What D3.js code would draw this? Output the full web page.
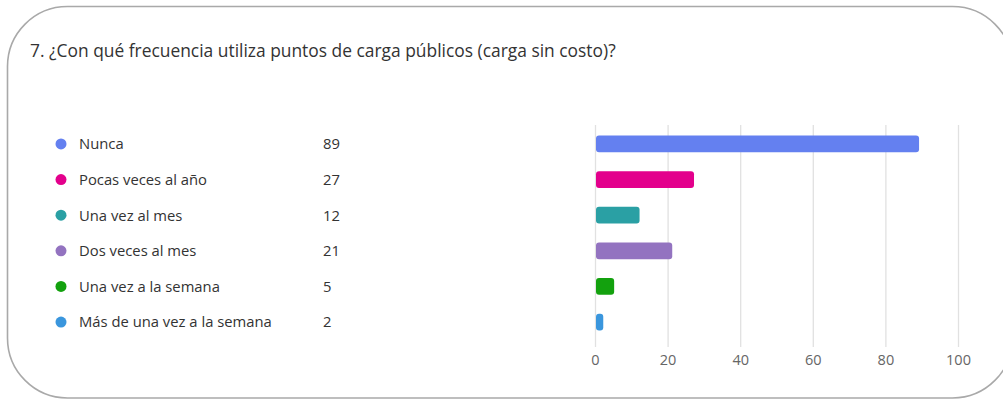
<!DOCTYPE html>
<html>
<head>
<meta charset="utf-8">
<script src="https://cdn.jsdelivr.net/npm/d3@7"></script>
<style>
  html, body { margin: 0; padding: 0; background: #fff; }
  svg { display: block; }
  text { font-family: "Open Sans", "Noto Sans", sans-serif; }
</style>
</head>
<body>
<svg id="chart" width="1003" height="401"></svg>
<script>
// Survey answers: question 7, frequency of using free public charging points
const title = "7. ¿Con qué frecuencia utiliza puntos de carga públicos (carga sin costo)?";
const categories = [
  "Nunca",
  "Pocas veces al año",
  "Una vez al mes",
  "Dos veces al mes",
  "Una vez a la semana",
  "Más de una vez a la semana"
];
const counts = [89, 27, 12, 21, 5, 2];
const colors = ["#6480F0", "#E3008C", "#2AA0A4", "#9373C0", "#13A10E", "#3A96DD"];
const xTicks = [0, 20, 40, 60, 80, 100];

const rows = categories.map((c, i) => ({ label: c, value: counts[i], color: colors[i] }));

const svg = d3.select("#chart");

// Card outline
svg.append("rect")
  .attr("x", 7.5).attr("y", 6.5)
  .attr("width", 1005).attr("height", 391.5)
  .attr("rx", 60).attr("ry", 60)
  .attr("fill", "#fff")
  .attr("stroke", "#a9a9a9")
  .attr("stroke-width", 1.6);

svg.append("text")
  .attr("x", 30).attr("y", 57)
  .attr("font-size", 17.4)
  .attr("fill", "#333")
  .text(title);

// Scales
const x = d3.scaleLinear().domain([0, 100]).range([595, 958]);
const y = d3.scaleBand().domain(categories).range([126, 340]).paddingInner(0.53).paddingOuter(0.27);

// Grid lines from the axis ticks
const grid = svg.append("g")
  .attr("transform", `translate(0,${347})`)
  .call(d3.axisBottom(x).tickValues(xTicks).tickSize(-222).tickFormat(""));
grid.select(".domain").remove();
grid.selectAll(".tick line").attr("stroke", "#e1e1e1").attr("stroke-width", 1.3);

// Tick labels
const axis = svg.append("g")
  .attr("transform", `translate(0,${347})`)
  .call(d3.axisBottom(x).tickValues(xTicks).tickSize(0).tickPadding(8).tickFormat(d3.format("d")));
axis.select(".domain").remove();
axis.selectAll("text")
  .attr("font-size", 14.5)
  .attr("fill", "#666")
  .style("font-family", "'Open Sans', sans-serif");

// Bars
svg.append("g").selectAll("rect")
  .data(rows)
  .join("rect")
  .attr("x", x(0) + 1)
  .attr("y", d => y(d.label))
  .attr("width", d => x(d.value) - x(0))
  .attr("height", y.bandwidth())
  .attr("rx", 3).attr("ry", 3)
  .attr("fill", d => d.color);

// Legend with counts
const legend = svg.append("g").selectAll("g")
  .data(rows)
  .join("g")
  .attr("transform", d => `translate(0,${y(d.label) + y.bandwidth() / 2})`);

legend.append("circle")
  .attr("cx", 61).attr("cy", 0).attr("r", 5.5)
  .attr("fill", d => d.color);

legend.append("text")
  .attr("x", 79).attr("y", 0).attr("dy", "0.36em")
  .attr("font-size", 14.8)
  .attr("fill", "#333")
  .text(d => d.label);

legend.append("text")
  .attr("x", 323).attr("y", 0).attr("dy", "0.36em")
  .attr("font-size", 14.8)
  .attr("fill", "#333")
  .text(d => d.value);
</script>
</body>
</html>
